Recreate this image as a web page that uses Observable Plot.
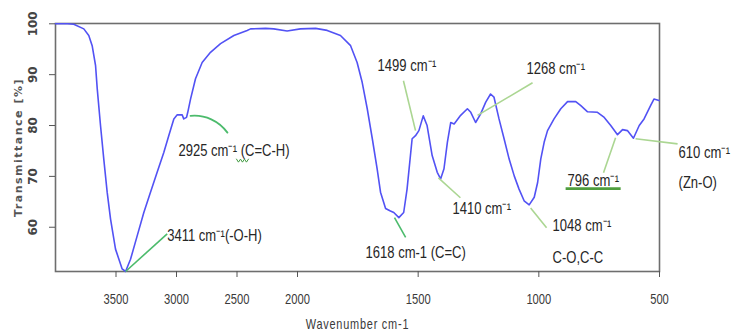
<!DOCTYPE html>
<html><head><meta charset="utf-8">
<script src="https://cdn.jsdelivr.net/npm/d3@7"></script>
<script src="https://cdn.jsdelivr.net/npm/@observablehq/plot@0.6"></script>
<style>
html,body{margin:0;padding:0;background:#fff;}
#chart svg{display:block;}
</style></head><body><div id="chart"></div>
<script>
// FTIR spectrum (wavenumber cm-1, transmittance %)
const wavenumber = [4000,3900,3849,3766,3725,3697,3669,3655,3628,3601,3573,3545,3504,3449,3421,3380,3325,3270,3215,3160,3105,3064,3022,2994,2953,2940,2917,2907,2884,2843,2788,2719,2636,2526,2416,2388,2264,2196,2086,1988,1925,1877,1822,1780,1753,1732,1711,1690,1670,1656,1635,1615,1601,1580,1560,1546,1532,1525,1511,1497,1479,1463,1442,1421,1407,1393,1379,1365,1351,1324,1296,1282,1262,1241,1220,1200,1186,1165,1144,1123,1102,1082,1061,1040,1019,1005,992,978,964,937,909,881,847,826,798,757,729,702,674,653,633,608,584,564,537,523,502];
const transmittance = [100,100,99.9,99.0,97.7,95.7,91.8,87.2,80.0,73.4,66.9,61.6,55.7,51.8,51.3,53.7,58.3,62.9,66.9,70.8,74.7,78.0,81.3,82.1,82.1,81.3,81.6,82.6,85.2,89.2,92.4,94.4,96.1,97.7,98.7,99.0,99.1,99.0,98.6,99.0,99.1,98.7,97.7,95.7,92.4,88.5,83.3,77.4,71.5,66.9,63.7,63.2,62.9,61.9,62.9,67.5,74.1,77.4,78.0,79.0,81.9,80.0,74.1,70.8,69.5,71.5,76.7,80.6,80.3,82.0,83.3,82.6,80.6,82.3,84.6,86.2,85.6,81.3,77.4,73.4,70.1,67.5,65.2,64.4,65.9,68.8,73.4,76.7,79.0,81.3,83.3,84.7,84.7,83.9,82.7,82.6,81.6,80.0,78.2,79.2,79.0,77.5,80.0,81.3,83.9,85.2,84.9];

const xTicks = [3500,3000,2500,2000,1500,1000,500];
const yTicks = [100,90,80,70,60];

// annotation labels (anchored at their left edge, vertical centre)
const annText = ["2925 cm\u207B\u00B9 (C=C-H)","3411 cm\u207B\u00B9(-O-H)","1618 cm-1 (C=C)","1499 cm\u207B\u00B9","1268 cm\u207B\u00B9","1410 cm\u207B\u00B9","1048 cm\u207B\u00B9","C-O,C-C","796 cm\u207B\u00B9","610 cm\u207B\u00B9","(Zn-O)"];
const annW = [2984,3077,1718,1668,1051,1358,943,943,881,421,421];
const annT = [75.1,58.3,55.0,91.8,91.2,63.6,60.3,54.0,69.2,74.7,68.8];

// leader lines: strong green group
const leadW1 = [3421,1598];
const leadT1 = [51.3,61.9];
const leadW2 = [3077,1552];
const leadT2 = [58.7,58.0];
// leader lines: light green group
const lightW1 = [1561,1026,1416,1034,682,599];
const lightT1 = [88.8,88.4,69.7,63.8,77.6,77.4];
const lightW2 = [1511,1254,1325,968,732,425];
const lightT2 = [79.0,82.0,65.8,59.9,70.7,76.4];
// curved leader for 2925
const arcW = [2884,2579];
const arcT = [81.9,78.6];
// underline under 796 label
const ulW = [889,661];
const ulT = [67.6,67.6];
// spell-check squiggle under the 2925 superscript
const sqW = [2504,2488,2471,2455,2438,2422,2405];
const sqT = [73.4,72.8,73.4,72.8,73.4,72.8,73.4];

const spectrum = wavenumber.map((w,i)=>({w, t: transmittance[i]}));
const ann = annText.map((s,i)=>({s, w: annW[i], t: annT[i]}));
const leads = leadW1.map((_,i)=>({x1: leadW1[i], y1: leadT1[i], x2: leadW2[i], y2: leadT2[i]}));
const lights = lightW1.map((_,i)=>({x1: lightW1[i], y1: lightT1[i], x2: lightW2[i], y2: lightT2[i]}));
const squiggle = sqW.map((w,i)=>({w, t: sqT[i]}));

const sans = "'Liberation Sans',Arial,sans-serif";

const chart = Plot.plot({
  width: 735, height: 334,
  marginTop: 23, marginBottom: 63, marginLeft: 55, marginRight: 76,
  style: {background: "#fff", overflow: "visible"},
  x: {type: "linear", domain: [500, 2000, 4000], range: [659, 297, 55]},
  y: {domain: [51.3, 100], range: [271, 23.3]},
  marks: [
    Plot.frame({stroke: "#6e6e6e", strokeWidth: 1.6}),
    Plot.axisX({ticks: xTicks, tickFormat: d => String(d), tickSize: 6, tickPadding: 17, stroke: "#555", fill: "#3a3a3a",
      fontFamily: sans, fontSize: 14, label: null}),
    Plot.axisY({ticks: yTicks, tickSize: 6, stroke: "#555", tickFormat: () => "", label: null}),
    Plot.text(yTicks, {y: d => d, text: d => String(d), frameAnchor: "left", dx: -22, rotate: -90,
      textAnchor: "middle", lineAnchor: "middle", fontFamily: "'DejaVu Sans',sans-serif",
      fontSize: 12, fontWeight: "bold", fill: "#444"}),
    Plot.text(["Transmittance [%]"], {frameAnchor: "left", dx: -37, rotate: -90, textAnchor: "middle",
      lineAnchor: "middle", fontFamily: "'DejaVu Sans',sans-serif", fontSize: 11, fontWeight: "bold", fill: "#555"}),
    Plot.text(["Wavenumber cm-1"], {frameAnchor: "bottom", dy: 53, textAnchor: "middle", lineAnchor: "middle",
      fontFamily: sans, fontSize: 14, fill: "#3a3a3a"}),
    Plot.line(spectrum, {x: "w", y: "t", stroke: "#5252f4", strokeWidth: 1.6}),
    Plot.link(leads, {x1: "x1", y1: "y1", x2: "x2", y2: "y2", stroke: "#4cbb6c", strokeWidth: 1.6}),
    Plot.link(lights, {x1: "x1", y1: "y1", x2: "x2", y2: "y2", stroke: "#abd692", strokeWidth: 1.6}),
    Plot.arrow([0], {x1: () => arcW[0], y1: () => arcT[0], x2: () => arcW[1], y2: () => arcT[1],
      bend: 30, headLength: 0, stroke: "#4cbb6c", strokeWidth: 1.8, insetStart: 0, insetEnd: 0}),
    Plot.link([0], {x1: () => ulW[0], y1: () => ulT[0], x2: () => ulW[1], y2: () => ulT[1],
      stroke: "#4f9e3e", strokeWidth: 2.6}),
    Plot.line(squiggle, {x: "w", y: "t", stroke: "#3f9a3f", strokeWidth: 1}),
    Plot.text(ann, {x: "w", y: "t", text: "s", textAnchor: "start", lineAnchor: "middle",
      fontFamily: sans, fontSize: 16.5, fill: "#262626"})
  ]
});
document.getElementById("chart").appendChild(chart);
const svg = d3.select(chart);
// condensed look of the original picture
const annSet = new Set(annText);
const tickSet = new Set(xTicks.map(String));
svg.selectAll("text").each(function(){
  const t = this.textContent;
  let s = null;
  if (annSet.has(t)) s = 0.79;
  else if (tickSet.has(t)) s = 0.8;
  else if (t === "Wavenumber cm-1") s = 0.78;
  if (s !== null) {
    const tr = this.getAttribute("transform") || "";
    this.setAttribute("transform", tr + ` scale(${s},1)`);
  }
});
svg.selectAll("text").filter(function(){return this.textContent === "Wavenumber cm-1";})
  .style("letter-spacing", "1px");
svg.selectAll("text").filter(function(){return this.textContent === "Transmittance [%]";})
  .style("letter-spacing", "1.5px");
</script>
</body></html>
